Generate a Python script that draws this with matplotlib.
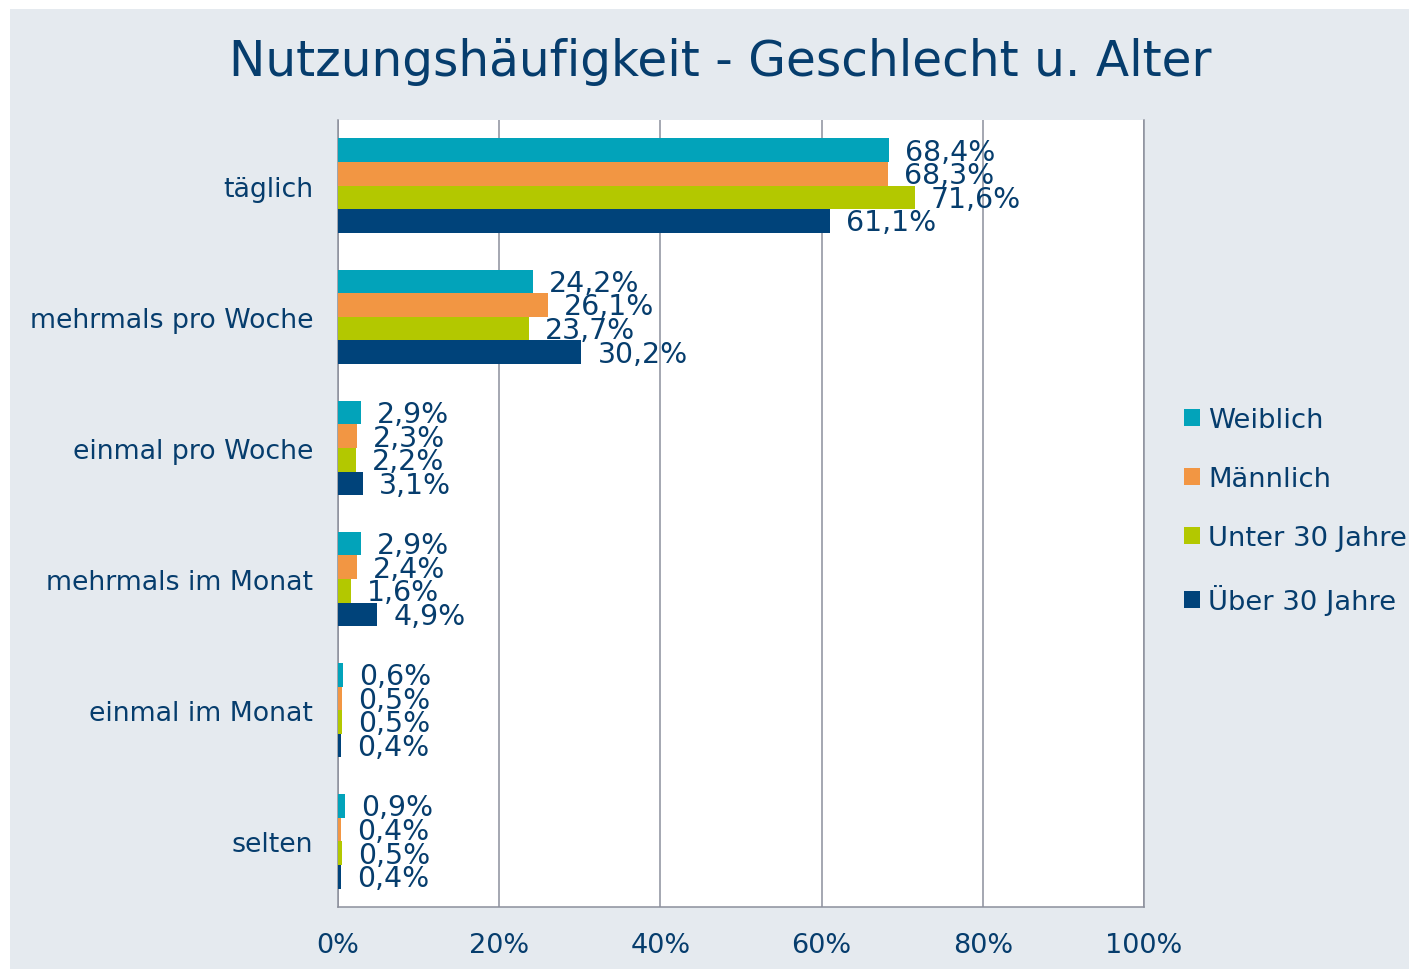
import matplotlib.pyplot as plt
from matplotlib.patches import Rectangle
import numpy as np

categories = ['täglich', 'mehrmals pro Woche', 'einmal pro Woche',
              'mehrmals im Monat', 'einmal im Monat', 'selten']
series_names = ['Weiblich', 'Männlich', 'Unter 30 Jahre', 'Über 30 Jahre']
weiblich = [68.4, 24.2, 2.9, 2.9, 0.6, 0.9]
maennlich = [68.3, 26.1, 2.3, 2.4, 0.5, 0.4]
unter30 = [71.6, 23.7, 2.2, 1.6, 0.5, 0.5]
ueber30 = [61.1, 30.2, 3.1, 4.9, 0.4, 0.4]
xticks = [0, 20, 40, 60, 80, 100]

colors = ['#02A3BA', '#F29643', '#B3C800', '#00437A']
txt = '#063D6D'
cond = ['DejaVu Sans Condensed', 'DejaVu Sans']

fig = plt.figure(figsize=(14.09, 9.70), dpi=100)
# light panel behind everything, white strip at top/left
fig.patches.append(Rectangle((10 / 1409, 0), 1, 960 / 970, transform=fig.transFigure,
                             facecolor='#E5EAEF', edgecolor='none', zorder=-5))

ax = fig.add_axes([338 / 1409, 1 - 908 / 970, (1144 - 338) / 1409, (908 - 121) / 970])
ax.set_facecolor('white')

y = np.arange(len(categories))
h = 0.18
data = [weiblich, maennlich, unter30, ueber30]
for k, (vals, name, c) in enumerate(zip(data, series_names, colors)):
    pos = y + (k - 1.5) * h
    ax.barh(pos, vals, height=h, color=c, label=name, zorder=3)
    for p, v in zip(pos, vals):
        ax.annotate(f'{v:.1f}%'.replace('.', ','), (v, p), xytext=(11.5, -1),
                    textcoords='offset points', va='center', ha='left',
                    fontsize=20.4, color=txt, family=cond, zorder=4)

ax.set_xlim(0, 100)
ax.set_ylim(len(categories) - 0.5, -0.5)
ax.set_xticks(xticks)
ax.set_xticklabels([f'{t}%' for t in xticks], family=cond, fontsize=19.5, color=txt)
ax.set_yticks(y)
ax.set_yticklabels(categories, fontsize=19.3, color=txt)
ax.tick_params(axis='x', length=0, pad=18)
ax.tick_params(axis='y', length=0, pad=18)
ax.grid(axis='x', color='#8C909C', linewidth=1.1, zorder=1)
for s in ['left', 'right', 'bottom']:
    ax.spines[s].set_color('#8C909C')
    ax.spines[s].set_linewidth(1.1)
ax.spines['top'].set_visible(False)

fig.text(0.511, 1 - 62 / 970, 'Nutzungshäufigkeit - Geschlecht u. Alter',
         ha='center', va='center', fontsize=35, color=txt)

fig.legend(loc='center left', bbox_to_anchor=(1184 / 1409, 1 - 512 / 970),
           frameon=False, fontsize=19.7, labelcolor=txt, handlelength=0.58,
           handleheight=0.58, handletextpad=0.3, labelspacing=1.2,
           borderpad=0, borderaxespad=0)

fig.savefig('out.png', dpi=100)
